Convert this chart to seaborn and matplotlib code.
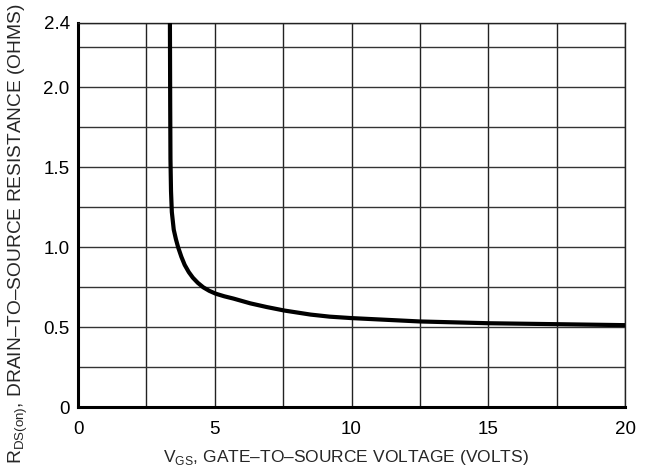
import matplotlib
matplotlib.use("Agg")
import matplotlib.pyplot as plt
import seaborn as sns
import pandas as pd

# Data
vgs = [3.36, 3.37, 3.38, 3.40, 3.43, 3.50, 3.58, 3.66, 3.78, 3.90, 4.05, 4.20,
       4.38, 4.58, 4.80, 5.04, 5.35, 5.68, 6.30, 6.90, 7.55, 8.50, 9.20, 10.0,
       12.5, 15.0, 17.5, 20.0]
rds = [2.40, 1.90, 1.55, 1.35, 1.22, 1.11, 1.05, 1.00, 0.94, 0.89, 0.845, 0.81,
       0.778, 0.75, 0.728, 0.71, 0.694, 0.68, 0.65, 0.627, 0.605, 0.58, 0.567, 0.558,
       0.537, 0.526, 0.520, 0.514]
xticks = [0, 5, 10, 15, 20]
yticks = [0, 0.5, 1.0, 1.5, 2.0, 2.4]
ytick_labels = ["0", "0.5", "1.0", "1.5", "2.0", "2.4"]
xgrid = [2.5, 5, 7.5, 10, 12.5, 15, 17.5, 20]
ygrid = [0.25, 0.5, 0.75, 1.0, 1.25, 1.5, 1.75, 2.0, 2.25, 2.4]

sns.set_theme(style="white")
plt.rcParams['font.family'] = ['Liberation Sans', 'DejaVu Sans']
plt.rcParams['mathtext.fontset'] = 'custom'
plt.rcParams['mathtext.rm'] = 'Liberation Sans'

fig = plt.figure(figsize=(6.54, 4.74), dpi=100)
ax = fig.add_axes([0.1193, 0.1403, 0.8364, 0.8112])

for g in xgrid:
    ax.axvline(g, color="#222222", lw=1.0, zorder=1)
for g in ygrid:
    ax.axhline(g, color="#333333", lw=1.0, zorder=1)

df = pd.DataFrame({"VGS": vgs, "RDS": rds})
sns.lineplot(data=df, x="VGS", y="RDS", sort=False, estimator=None,
             color="black", lw=3.0, ax=ax, zorder=3)

ax.set_xlim(0, 20)
ax.set_ylim(0, 2.4)
ax.set_xticks(xticks)
ax.set_xticklabels([str(t) for t in xticks])
ax.set_yticks(yticks)
ax.set_yticklabels(ytick_labels)
ax.tick_params(axis="both", length=0, labelsize=13.5, colors="black")
ax.tick_params(axis="x", pad=10)
ax.tick_params(axis="y", pad=6)

for s in ["left", "bottom"]:
    ax.spines[s].set_linewidth(2.2)
    ax.spines[s].set_color("black")
for s in ["top", "right"]:
    ax.spines[s].set_linewidth(1.0)
    ax.spines[s].set_color("#222222")

ax.set_xlabel(r"V$_{\mathregular{GS}}$, GATE–TO–SOURCE VOLTAGE (VOLTS)", fontsize=12.5)
ax.xaxis.set_label_coords(0.49, -0.105)
ax.set_ylabel(r"R$_{\mathregular{DS(on)}}$, DRAIN–TO–SOURCE RESISTANCE (OHMS)", fontsize=13.8)
ax.yaxis.set_label_coords(-0.087, 0.451)

fig.savefig("out.png", dpi=100)
